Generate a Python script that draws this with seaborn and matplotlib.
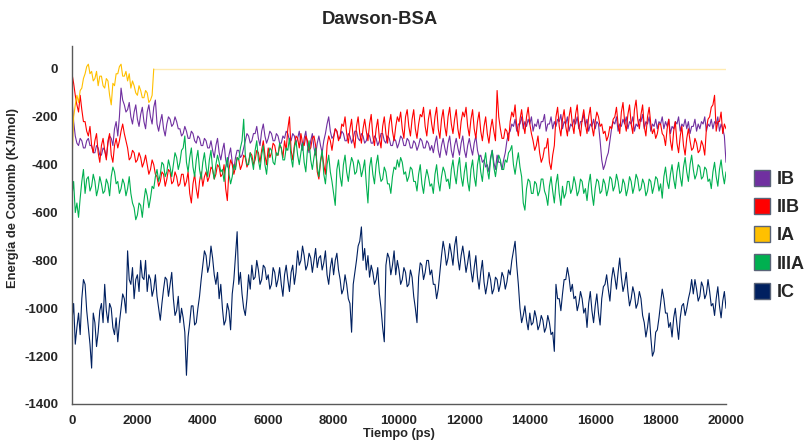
import numpy as np
import pandas as pd
import matplotlib
matplotlib.use("Agg")
import matplotlib.pyplot as plt
import seaborn as sns
from matplotlib.lines import Line2D

# ---------------- data (step 50 ps) ----------------
time_ps = list(range(0, 20001, 50))

IB = [-130, -220, -280, -310, -320, -290, -300, -330, -330, -300, -290, -320, -320, -350, -350, -320, -330, -360, -360, -330,
      -340, -370, -310, -280, -290, -320, -250, -220, -280, -200, -80, -130, -150, -180, -170, -140, -200, -230, -180, -150,
      -210, -240, -190, -160, -220, -250, -180, -150, -200, -230, -160, -130, -230, -260, -220, -190, -250, -280, -230, -200,
      -210, -240, -230, -200, -220, -250, -250, -280, -270, -240, -260, -290, -290, -260, -270, -300, -310, -280, -290, -320,
      -320, -290, -300, -330, -330, -300, -340, -370, -320, -290, -350, -380, -340, -310, -380, -410, -360, -330, -390, -420,
      -370, -340, -340, -370, -360, -330, -300, -270, -280, -310, -300, -270, -270, -240, -290, -320, -260, -230, -280, -310,
      -290, -260, -270, -300, -300, -270, -280, -310, -310, -280, -290, -260, -270, -300, -300, -270, -280, -310, -290, -260,
      -310, -340, -290, -260, -320, -350, -300, -270, -330, -360, -310, -280, -320, -350, -300, -270, -230, -200, -260, -290,
      -280, -250, -260, -290, -290, -260, -270, -300, -300, -270, -280, -310, -290, -260, -260, -290, -300, -270, -280, -310,
      -300, -270, -280, -310, -310, -280, -290, -320, -300, -270, -270, -300, -310, -280, -290, -320, -320, -290, -300, -330,
      -310, -280, -290, -320, -320, -290, -300, -330, -330, -300, -310, -340, -320, -290, -300, -330, -330, -300, -310, -340,
      -320, -350, -310, -280, -340, -370, -320, -290, -330, -360, -310, -280, -340, -370, -320, -290, -330, -360, -310, -280,
      -340, -370, -320, -290, -330, -360, -310, -280, -340, -370, -360, -390, -380, -410, -400, -430, -370, -340, -390, -420,
      -360, -390, -390, -420, -380, -350, -300, -270, -260, -230, -240, -210, -260, -230, -230, -200, -250, -220, -240, -210,
      -230, -200, -260, -230, -240, -210, -250, -220, -220, -190, -260, -230, -230, -200, -250, -220, -240, -210, -220, -190,
      -250, -220, -230, -200, -260, -230, -240, -210, -230, -200, -250, -220, -220, -190, -240, -210, -260, -230, -240, -210,
      -250, -220, -230, -300, -380, -420, -400, -370, -350, -300, -250, -220, -230, -200, -260, -230, -240, -210, -230, -200,
      -250, -220, -230, -200, -260, -230, -240, -210, -220, -190, -250, -220, -230, -200, -260, -230, -240, -210, -250, -220,
      -230, -200, -250, -220, -240, -210, -270, -240, -250, -220, -230, -200, -260, -230, -240, -210, -250, -220, -270, -240,
      -240, -210, -260, -230, -250, -220, -230, -200, -260, -230, -240, -210, -250, -220, -230, -200, -260, -230, -250, -280,
      -390]

IIB = [-20, -60, -110, -150, -180, -110, -170, -220, -220, -260, -280, -240, -320, -350, -300, -270, -350, -390, -320, -290,
       -340, -380, -300, -270, -360, -390, -320, -290, -330, -300, -260, -230, -270, -300, -330, -380, -370, -340, -350, -390,
       -380, -350, -370, -410, -390, -360, -400, -440, -420, -380, -400, -440, -450, -490, -470, -430, -440, -490, -460, -420,
       -430, -480, -470, -430, -450, -490, -480, -440, -440, -490, -470, -430, -520, -560, -480, -440, -500, -540, -470, -430,
       -490, -450, -430, -470, -450, -410, -420, -460, -440, -400, -410, -450, -440, -400, -500, -550, -420, -380, -400, -440,
       -410, -370, -380, -420, -400, -360, -370, -410, -390, -350, -360, -400, -380, -340, -350, -390, -340, -300, -360, -400,
       -330, -370, -350, -310, -320, -360, -360, -320, -330, -370, -300, -340, -250, -200, -340, -380, -320, -280, -290, -330,
       -270, -310, -320, -280, -300, -340, -330, -290, -280, -320, -430, -460, -390, -350, -400, -440, -320, -280, -300, -340,
       -290, -250, -260, -300, -280, -230, -240, -200, -270, -310, -250, -210, -290, -330, -240, -200, -270, -310, -250, -210,
       -260, -300, -230, -190, -280, -320, -250, -210, -290, -330, -240, -200, -270, -310, -230, -190, -260, -300, -240, -200,
       -220, -180, -250, -290, -200, -170, -240, -280, -210, -170, -250, -290, -230, -190, -200, -160, -240, -280, -210, -170,
       -230, -270, -200, -160, -250, -290, -210, -170, -240, -280, -200, -160, -230, -270, -210, -170, -250, -290, -220, -180,
       -200, -160, -240, -280, -210, -170, -250, -290, -220, -180, -260, -300, -240, -200, -270, -310, -250, -210, -260, -300,
       -90, -200, -250, -290, -290, -250, -260, -300, -220, -180, -200, -150, -240, -280, -210, -170, -230, -270, -200, -160,
       -230, -270, -300, -340, -320, -280, -350, -390, -370, -330, -330, -290, -390, -420, -360, -320, -200, -160, -240, -280,
       -210, -170, -240, -280, -200, -160, -230, -270, -190, -150, -240, -280, -210, -170, -230, -270, -200, -160, -240, -280,
       -220, -180, -200, -240, -230, -270, -260, -300, -280, -240, -250, -210, -200, -160, -230, -270, -180, -140, -220, -260,
       -190, -150, -230, -270, -170, -130, -210, -250, -190, -150, -240, -280, -200, -160, -230, -270, -250, -290, -270, -230,
       -230, -270, -280, -320, -250, -210, -300, -340, -260, -220, -310, -350, -280, -240, -320, -360, -290, -250, -300, -340,
       -330, -290, -310, -350, -340, -300, -320, -360, -250, -210, -200, -160, -150, -110, -260, -220, -220, -180, -270, -230,
       -250]

IA_time = list(range(0, 2501, 50))
IA = [-390, -200, -150, -110, -140, -90, -80, -40, -20, 10, 20, -20, -10, -50, -40, -10, -70, -30, -30, -70,
      -80, -40, -50, -110, -150, -60, -70, -20, -20, 10, 20, -30, -30, -10, -50, -20, -80, -50, -70, -100,
      -110, -70, -90, -120, -120, -90, -100, -140, -130, -110, 0]
IA_flat_time = [2500, 20000]
IA_flat = [0, 0]

IIIA = [-530, -470, -600, -560, -620, -540, -470, -420, -520, -460, -450, -510, -490, -440, -470, -530, -500, -450, -480, -520,
        -510, -460, -480, -530, -450, -410, -430, -480, -470, -520, -500, -460, -480, -530, -500, -450, -520, -560, -580, -630,
        -610, -560, -570, -620, -550, -500, -530, -580, -540, -490, -500, -450, -420, -470, -440, -390, -400, -450, -430, -380,
        -410, -450, -400, -350, -370, -420, -390, -340, -330, -280, -390, -430, -370, -330, -410, -450, -380, -340, -420, -460,
        -390, -350, -410, -450, -380, -340, -420, -460, -400, -360, -390, -430, -420, -470, -410, -370, -440, -480, -450, -400,
        -420, -370, -380, -330, -300, -210, -360, -400, -400, -350, -380, -420, -340, -300, -380, -420, -360, -320, -400, -440,
        -370, -330, -340, -390, -400, -350, -360, -310, -330, -380, -380, -330, -340, -290, -370, -410, -330, -300, -360, -400,
        -350, -310, -390, -430, -340, -300, -380, -420, -370, -330, -410, -450, -380, -340, -440, -480, -400, -360, -430, -470,
        -520, -570, -420, -380, -450, -490, -400, -360, -430, -470, -410, -370, -390, -440, -430, -380, -400, -450, -420, -380,
        -480, -560, -410, -370, -440, -480, -400, -360, -430, -470, -460, -410, -430, -480, -480, -520, -450, -410, -420, -380,
        -410, -370, -390, -440, -430, -470, -450, -410, -420, -470, -470, -510, -440, -400, -480, -520, -460, -420, -450, -490,
        -480, -520, -440, -400, -470, -510, -450, -410, -430, -470, -460, -500, -420, -380, -440, -480, -410, -370, -450, -490,
        -430, -390, -470, -510, -420, -380, -450, -490, -400, -360, -430, -470, -390, -350, -420, -460, -380, -340, -410, -450,
        -400, -360, -380, -420, -420, -380, -390, -350, -340, -320, -400, -440, -390, -350, -410, -450, -560, -590, -500, -460,
        -470, -520, -520, -470, -480, -530, -510, -460, -460, -510, -530, -570, -490, -450, -510, -560, -480, -440, -520, -570,
        -490, -540, -520, -470, -470, -520, -500, -450, -480, -530, -510, -460, -470, -520, -500, -550, -480, -440, -520, -570,
        -500, -460, -470, -520, -510, -460, -480, -530, -500, -450, -460, -510, -490, -440, -470, -520, -510, -460, -480, -530,
        -500, -450, -470, -520, -490, -440, -460, -510, -500, -460, -480, -530, -510, -460, -470, -520, -490, -450, -460, -510,
        -480, -540, -450, -410, -470, -500, -440, -400, -460, -500, -430, -390, -450, -490, -410, -370, -430, -470, -400, -360,
        -420, -460, -440, -400, -410, -460, -450, -410, -420, -470, -460, -500, -430, -390, -450, -490, -420, -380, -440, -480,
        -430]

IC = [-1050, -980, -1150, -1080, -1020, -1110, -960, -880, -900, -1010, -1080, -1150, -1250, -1020, -1060, -1160, -1100, -1010, -980, -1060,
      -900, -1010, -1060, -980, -1000, -1080, -1110, -1040, -1140, -1060, -1000, -940, -960, -1020, -760, -880, -900, -830, -960, -880,
      -860, -930, -800, -870, -880, -800, -930, -860, -880, -950, -920, -860, -950, -1000, -1050, -980, -920, -870, -880, -950,
      -900, -850, -960, -1030, -1010, -950, -1060, -1000, -1040, -1100, -1280, -1120, -1060, -990, -990, -1070, -1060, -1000, -950, -880,
      -820, -760, -780, -850, -820, -740, -790, -860, -900, -850, -960, -900, -1000, -1070, -1050, -980, -1010, -1090, -940, -880,
      -780, -680, -900, -850, -940, -1000, -1030, -960, -860, -920, -820, -880, -870, -800, -840, -900, -880, -820, -830, -880,
      -860, -920, -900, -830, -850, -910, -880, -830, -900, -950, -860, -820, -880, -930, -850, -820, -900, -850, -760, -820,
      -800, -740, -780, -840, -820, -770, -790, -850, -800, -750, -830, -790, -780, -840, -810, -760, -860, -900, -830, -790,
      -860, -800, -770, -840, -880, -940, -920, -860, -900, -960, -980, -1100, -900, -850, -800, -740, -720, -660, -800, -750,
      -840, -780, -870, -820, -850, -900, -880, -830, -940, -1000, -1080, -1140, -820, -770, -790, -860, -820, -760, -860, -800,
      -840, -900, -880, -830, -850, -910, -900, -840, -870, -950, -1000, -1060, -870, -810, -820, -880, -850, -800, -800, -860,
      -840, -900, -900, -960, -920, -850, -780, -720, -760, -820, -790, -730, -770, -820, -740, -700, -790, -840, -780, -740,
      -790, -850, -810, -760, -840, -890, -830, -780, -870, -920, -850, -800, -890, -940, -900, -850, -880, -940, -920, -870,
      -880, -930, -900, -850, -870, -920, -890, -840, -860, -800, -760, -720, -820, -900, -1000, -1060, -1030, -990, -1050, -1090,
      -1020, -1070, -1060, -1010, -1040, -1090, -1070, -1030, -1050, -1100, -1080, -1030, -1060, -1110, -1100, -1180, -900, -960, -960, -1010,
      -940, -880, -880, -830, -870, -930, -900, -960, -950, -1010, -980, -930, -960, -1020, -1000, -1080, -980, -930, -1010, -1060,
      -990, -940, -1020, -1070, -960, -910, -900, -860, -920, -970, -880, -830, -870, -920, -850, -790, -870, -930, -900, -850,
      -930, -990, -960, -910, -940, -1000, -980, -930, -960, -1030, -1060, -1120, -1080, -1020, -1120, -1200, -1180, -1100, -1090, -1040,
      -980, -920, -960, -1020, -1020, -1080, -1060, -1120, -1040, -1000, -1070, -1130, -1040, -990, -980, -1030, -1000, -960, -930, -880,
      -940, -880, -920, -970, -950, -890, -910, -960, -940, -880, -930, -990, -980, -1030, -960, -910, -990, -1040, -970, -930,
      -1000]

series_names = ["IB", "IIB", "IA", "IIIA", "IC"]
colors = {"IB": "#7030A0", "IIB": "#FF0000", "IA": "#FFC000",
          "IIIA": "#00B050", "IC": "#002060"}

y_ticks = list(range(-1400, 1, 200))
x_ticks = list(range(0, 20001, 2000))

# ---------------- build long table ----------------
frames = []
for name, vals in [("IB", IB), ("IIB", IIB), ("IIIA", IIIA), ("IC", IC)]:
    assert len(vals) == len(time_ps), (name, len(vals))
    frames.append(pd.DataFrame({"t": time_ps, "E": vals, "serie": name}))
assert len(IA) == len(IA_time)
frames.append(pd.DataFrame({"t": IA_time, "E": IA, "serie": "IA"}))
df = pd.concat(frames, ignore_index=True)
df_flat = pd.DataFrame({"t": IA_flat_time, "E": IA_flat, "serie": "IA"})

# ---------------- plot ----------------
sns.set_theme(style="white")
plt.rcParams["font.family"] = ["Liberation Sans", "DejaVu Sans"]

fig = plt.figure(figsize=(8.09, 4.43), dpi=100)
ax = fig.add_axes([72 / 809, 1 - 404 / 443, (726 - 72) / 809, (404 - 46) / 443])

sns.lineplot(data=df_flat, x="t", y="E", color=colors["IA"], alpha=0.3,
             linewidth=1.0, ax=ax, estimator=None, sort=False, legend=False)
for name in series_names:
    sub = df[df["serie"] == name]
    sns.lineplot(data=sub, x="t", y="E", color=colors[name], linewidth=0.8,
                 ax=ax, estimator=None, sort=False, legend=False)

ax.set_xlim(0, 20000)
ax.set_ylim(-1400, 96)
ax.set_xticks(x_ticks)
ax.set_yticks(y_ticks)
ax.set_xticklabels([str(v) for v in x_ticks], fontweight="bold", fontsize=9.5)
ax.set_yticklabels([str(v) for v in y_ticks], fontweight="bold", fontsize=9.5)
ax.tick_params(axis="x", length=0, pad=8)
ax.tick_params(axis="y", length=0, pad=10)
for s in ["top", "right"]:
    ax.spines[s].set_visible(False)
for s in ["left", "bottom"]:
    ax.spines[s].set_color("#595959")
    ax.spines[s].set_linewidth(1.0)
ax.grid(False)

ax.set_xlabel("Tiempo (ps)", fontweight="bold", fontsize=9.2)
ax.xaxis.set_label_coords((399 - 72) / 654, -(428 - 404) / 358)
ax.set_ylabel("Energía de Coulomb (KJ/mol)", fontweight="bold", fontsize=9.3)
ax.yaxis.set_label_coords(-(72 - 19) / 654, (404 - 198) / 358)
fig.text(380 / 809, 1 - 20 / 443, "Dawson-BSA", ha="center", va="center",
         fontweight="bold", fontsize=13.3)

handles = [Line2D([0], [0], marker="s", linestyle="none", markersize=11,
                  markerfacecolor=colors[n], markeredgecolor="#5a6478",
                  markeredgewidth=1.0) for n in series_names]
leg = fig.legend(handles, series_names, loc="center left",
                 bbox_to_anchor=(742 / 809, 1 - 236 / 443), frameon=False,
                 prop={"weight": "bold", "size": 13}, handletextpad=0.2,
                 labelspacing=0.62, borderpad=0, handlelength=1.2)

fig.savefig("out.png", dpi=100)
